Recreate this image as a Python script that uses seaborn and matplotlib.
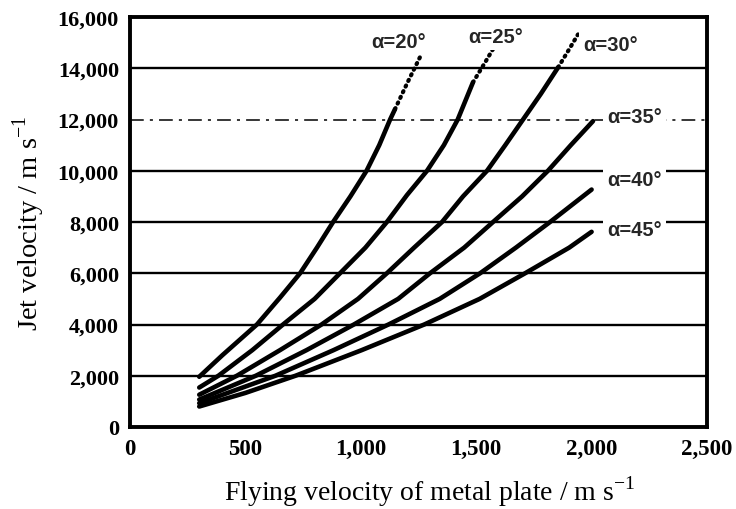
import numpy as np
import pandas as pd
import matplotlib
matplotlib.use("Agg")
import matplotlib.pyplot as plt
import seaborn as sns

# ---- data ----
angles = [20, 25, 30, 35, 40, 45]

x20 = [300, 400, 550, 650, 737, 810, 880, 955, 1025, 1080, 1127, 1148]
y20 = [1960, 2800, 4000, 5050, 6000, 7000, 8000, 9000, 10000, 11000, 12000, 12400]
x20d = [1148, 1200, 1256]
y20d = [12400, 13400, 14425]

x25 = [300, 383, 530, 663, 800, 910, 1020, 1113, 1200, 1287, 1360, 1420, 1486]
y25 = [1540, 2000, 3000, 4000, 5000, 6000, 7000, 8000, 9050, 10000, 11000, 12000, 13450]
x25d = [1486, 1540, 1590]
y25d = [13450, 14250, 15010]

x30 = [300, 463, 650, 830, 988, 1113, 1231, 1352, 1443, 1547, 1626, 1703, 1780, 1855]
y30 = [1260, 2000, 3000, 4000, 5000, 6000, 7000, 8000, 9000, 10000, 11000, 12000, 13000, 14035]
x30d = [1855, 1900, 1941]
y30d = [14035, 14700, 15320]

x35 = [300, 545, 765, 970, 1162, 1300, 1448, 1573, 1699, 1811, 1910, 2006]
y35 = [1070, 2000, 3000, 4000, 5000, 6000, 7000, 8000, 9000, 10000, 11000, 11935]

x40 = [300, 630, 882, 1120, 1342, 1517, 1672, 1820, 2000]
y40 = [930, 2000, 3000, 4000, 5000, 6000, 7000, 8000, 9266]

x45 = [300, 500, 717, 1004, 1275, 1515, 1712, 1903, 2000]
y45 = [800, 1330, 2000, 3000, 4000, 5000, 6000, 7000, 7617]

solid = {20: (x20, y20), 25: (x25, y25), 30: (x30, y30),
         35: (x35, y35), 40: (x40, y40), 45: (x45, y45)}
dotted = {20: (x20d, y20d), 25: (x25d, y25d), 30: (x30d, y30d)}

labels = ["α=20°", "α=25°", "α=30°", "α=35°", "α=40°", "α=45°"]
label_xy = [(1165, 15050), (1586, 15240), (2084, 14930),
            (2067, 12125), (2067, 9670), (2067, 7720)]
label_ha = ["center", "center", "center", "left", "left", "left"]

xticks = [0, 500, 1000, 1500, 2000, 2500]
yticks = [0, 2000, 4000, 6000, 8000, 10000, 12000, 14000, 16000]

# ---- style ----
sns.set_theme(style="white")
plt.rcParams["font.family"] = ["Liberation Serif", "DejaVu Serif"]
plt.rcParams["mathtext.fontset"] = "custom"
plt.rcParams["mathtext.rm"] = "Liberation Serif"

fig = plt.figure(figsize=(7.36, 5.10), dpi=100)
ax = fig.add_axes([130 / 736, 1 - 428 / 510, 577 / 736, 410 / 510])

ax.set_xlim(0, 2500)
ax.set_ylim(0, 16000)

# grid lines
for g in yticks[1:-1]:
    if g == 12000:
        ax.axhline(g, color="black", lw=1.1, ls=(0, (9, 4, 2, 4)), zorder=1)
    else:
        ax.axhline(g, color="black", lw=1.7, zorder=1)

for a in angles:
    xs, ys = solid[a]
    df = pd.DataFrame({"Vp": xs, "Vj": ys})
    sns.lineplot(data=df, x="Vp", y="Vj", color="black", lw=3.3,
                 sort=False, estimator=None, ax=ax, zorder=3,
                 solid_capstyle="round", solid_joinstyle="round")
    if a in dotted:
        xd, yd = dotted[a]
        dfd = pd.DataFrame({"Vp": xd, "Vj": yd})
        sns.lineplot(data=dfd, x="Vp", y="Vj", color="black", lw=3.0,
                     sort=False, estimator=None, ax=ax, zorder=3,
                     linestyle=(0, (0.3, 1.2)), dash_capstyle="round")

for lab, (lx, ly), ha in zip(labels, label_xy, label_ha):
    ax.text(lx, ly, lab, ha=ha, va="center", fontsize=14.5,
            fontweight="bold", family=["Liberation Sans", "DejaVu Sans"],
            zorder=4,
            bbox=dict(facecolor="white", edgecolor="none", pad=3))

ax.set_xticks(xticks)
ax.set_xticklabels([f"{v:,}" for v in xticks])
ax.set_yticks(yticks)
ax.set_yticklabels([f"{v:,}" for v in yticks])
ax.tick_params(axis="both", length=0, colors="black")
ax.tick_params(axis="y", pad=8, labelsize=16)
ax.tick_params(axis="x", pad=8, labelsize=16.5)
for t in ax.get_xticklabels() + ax.get_yticklabels():
    t.set_fontweight("bold")

ax.set_xlabel("Flying velocity of metal plate / m s$^{\\mathregular{-1}}$",
              fontsize=20, color="black")
ax.xaxis.set_label_coords((430 - 130) / 577, -46 / 410)
ax.set_ylabel("Jet velocity / m s$^{\\mathregular{-1}}$",
              fontsize=20.5, color="black", labelpad=8)

for s in ax.spines.values():
    s.set_visible(True)
    s.set_color("black")
    s.set_linewidth(2.8)

fig.savefig("out.png", dpi=100)
